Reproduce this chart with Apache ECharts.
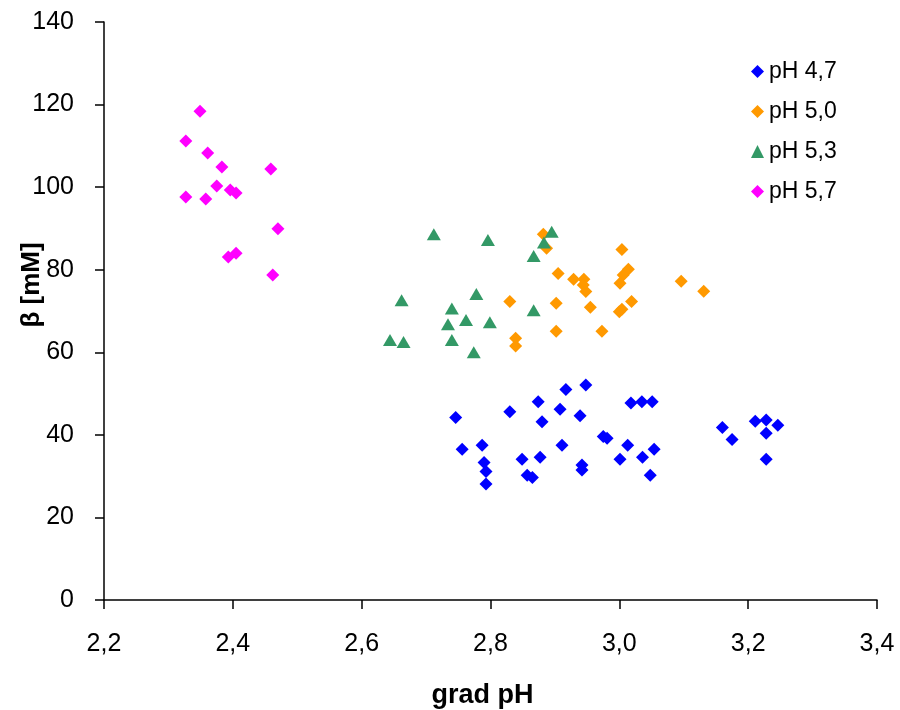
<!DOCTYPE html>
<html>
<head>
<meta charset="utf-8">
<script src="https://cdn.jsdelivr.net/npm/echarts@6/dist/echarts.min.js"></script>
<style>
html,body{margin:0;padding:0;background:#fff;}
#chart{width:900px;height:710px;}
</style>
</head>
<body>
<div id="chart"></div>
<script>
// Series names
const seriesNames = ['pH 4,7', 'pH 5,0', 'pH 5,3', 'pH 5,7'];

// pH 4,7 : [grad pH, beta]
const ph47 = [
  [2.746, 44.2], [2.756, 36.5], [2.787, 37.5], [2.790, 33.3], [2.793, 31.1], [2.793, 28.1],
  [2.830, 45.6], [2.849, 34.1], [2.857, 30.2], [2.865, 29.7], [2.874, 48.0], [2.880, 43.2],
  [2.877, 34.6], [2.917, 51.0], [2.908, 46.2], [2.911, 37.5], [2.948, 52.1], [2.939, 44.6],
  [2.942, 32.7], [2.942, 31.5], [2.975, 39.6], [2.981, 39.2], [3.013, 37.5], [3.001, 34.1],
  [3.018, 47.7], [3.035, 48.0], [3.051, 48.0], [3.036, 34.6], [3.054, 36.5], [3.048, 30.2],
  [3.160, 41.8], [3.175, 38.9], [3.211, 43.3], [3.228, 43.6], [3.246, 42.3], [3.228, 40.4],
  [3.228, 34.1]
];

// pH 5,0
const ph50 = [
  [2.882, 88.6], [2.887, 85.2], [2.905, 79.1], [2.929, 77.7], [2.945, 77.7], [2.944, 76.3],
  [2.948, 74.7], [3.004, 84.9], [3.014, 80.1], [3.006, 78.7], [3.001, 76.7], [3.096, 77.2],
  [3.131, 74.8], [2.830, 72.3], [2.902, 71.9], [2.955, 70.9], [3.019, 72.3], [3.004, 70.4],
  [3.000, 69.8], [2.902, 65.1], [2.973, 65.1], [2.839, 63.4], [2.839, 61.5]
];

// pH 5,3
const ph53 = [
  [2.712, 88.6], [2.796, 87.2], [2.895, 89.2], [2.883, 86.6], [2.867, 83.3], [2.662, 72.6],
  [2.778, 74.1], [2.740, 70.6], [2.762, 67.8], [2.734, 66.8], [2.799, 67.3], [2.867, 70.2],
  [2.644, 63.0], [2.665, 62.5], [2.740, 63.0], [2.774, 60.0]
];

// pH 5,7
const ph57 = [
  [2.349, 118.4], [2.327, 111.2], [2.361, 108.3], [2.383, 104.9], [2.459, 104.4], [2.375, 100.3],
  [2.396, 99.3], [2.405, 98.6], [2.327, 97.6], [2.358, 97.1], [2.470, 89.9], [2.393, 83.1],
  [2.405, 84.0], [2.462, 78.7]
];

const xTitle = 'grad pH';
const yTitle = 'β [mM]';

const colors = ['#0000FF', '#FF9900', '#339966', '#FF00FF'];
const symbols = ['diamond', 'diamond', 'triangle', 'diamond'];
const sizes = [13, 13, [14, 12], 13];
const datasets = [ph47, ph50, ph53, ph57];

const chart = echarts.init(document.getElementById('chart'));
const font = 'Arial, "Liberation Sans", sans-serif';

chart.setOption({
  animation: false,
  backgroundColor: '#ffffff',
  textStyle: { fontFamily: font },
  grid: { left: 104, right: 23, top: 22, bottom: 110, containLabel: false, outerBoundsMode: 'none' },
  legend: {
    orient: 'vertical',
    left: 746,
    top: 55,
    itemWidth: 13,
    itemHeight: 13,
    itemGap: 17,
    data: seriesNames,
    textStyle: { fontSize: 23, color: '#000', fontFamily: font, lineHeight: 22 }
  },
  xAxis: {
    type: 'value',
    min: 2.2,
    max: 3.4,
    interval: 0.2,
    name: xTitle,
    nameLocation: 'middle',
    nameGap: 82,
    nameMoveOverlap: false,
    nameTextStyle: { fontSize: 27, fontWeight: 'bold', color: '#000', fontFamily: font, padding: [0, 16, 0, 0] },
    axisLine: { lineStyle: { color: '#000', width: 1.5 } },
    axisTick: { show: true, inside: false, length: 9, lineStyle: { color: '#000', width: 1.5 } },
    axisLabel: {
      fontSize: 25, color: '#000', margin: 32, fontFamily: font,
      formatter: v => v.toFixed(1).replace('.', ',')
    },
    splitLine: { show: false }
  },
  yAxis: {
    type: 'value',
    min: 0,
    max: 140,
    interval: 20,
    name: yTitle,
    nameLocation: 'middle',
    nameGap: 59,
    nameMoveOverlap: false,
    nameTextStyle: { fontSize: 26, fontWeight: 'bold', color: '#000', fontFamily: font, padding: [0, 0, 0, 52] },
    axisLine: { show: true, lineStyle: { color: '#000', width: 1.5 } },
    axisTick: { show: true, inside: false, length: 9, lineStyle: { color: '#000', width: 1.5 } },
    axisLabel: { fontSize: 25, color: '#000', margin: 30, fontFamily: font },
    splitLine: { show: false }
  },
  series: datasets.map((d, i) => ({
    name: seriesNames[i],
    type: 'scatter',
    data: d,
    symbol: symbols[i],
    symbolSize: sizes[i],
    itemStyle: { color: colors[i], opacity: 1 },
    z: 2 + i
  }))
});
</script>
</body>
</html>
